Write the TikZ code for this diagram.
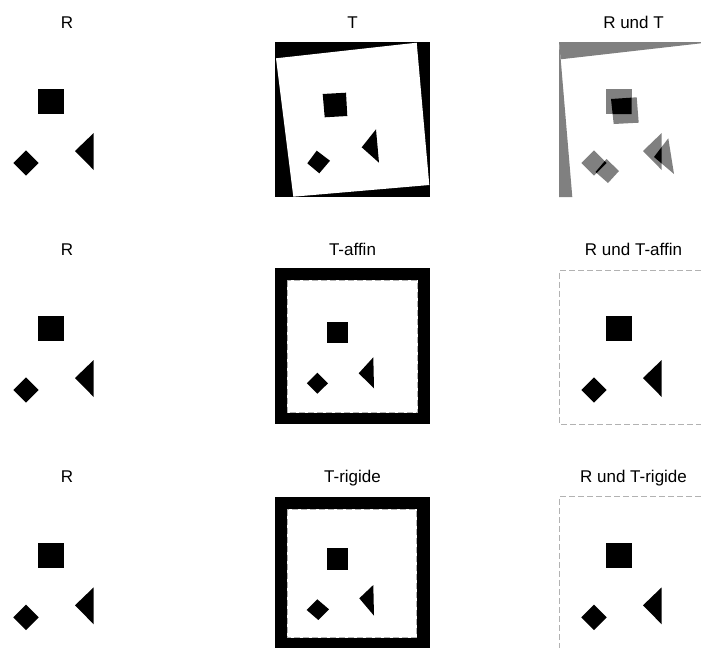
\documentclass[tikz,border=0pt]{standalone}
\usepackage{fontspec}
\setmainfont{Liberation Sans}
\begin{document}
\begin{tikzpicture}[
x=1pt, y=-1pt,
lab/.style={anchor=base, inner sep=0pt, font=\fontsize{17}{20}\selectfont},
frame/.style={fill=black},
ghost/.style={fill=black!50},
seam/.style={draw=black!30, line width=0.8pt, dash pattern=on 6pt off 3pt},
rfigs/.pic={
  \fill[pic actions] (47,47) rectangle (72.5,72);
  \fill[pic actions] (22.3,121) -- (35,108.3) -- (47.7,121) -- (35,133.7) -- cycle;
  \fill[pic actions] (84,109) -- (102.7,91) -- (102.7,128) -- cycle;
}
]
\useasboundingbox (0,0) rectangle (701,648);

% ---------- ROW 1: R / T / R und T ----------
\node[lab] (r1) at (67,28.5) {R};
\node[lab] (t1) at (352.5,28.5) {T};
\node[lab] (rt1) at (633.5,28.5) {R und T};

% reference
\pic at (-9,42) {rfigs};

% template, rotated
\begin{scope}[shift={(275,42)}]
\fill[frame] (0,0) rectangle (155,155);
\fill[white] (1,16.3) -- (141.7,0.7) -- (154.3,143) -- (18.3,154.7) -- cycle;
\fill (47.7,52) -- (71,50.7) -- (72.3,74) -- (49.7,75.3) -- cycle;
\fill (32.3,121.3) -- (41.7,108.7) -- (55,118.7) -- (44.3,131.3) -- cycle;
\fill (86.7,105.3) -- (101,87.3) -- (104,120.7) -- cycle;
\end{scope}

% overlay
\begin{scope}[shift={(559,42)}]
\fill[ghost] (0,0) -- (142,0) -- (142,1.3) -- (1.7,17.3) -- cycle;
\fill[ghost] (0,0) -- (1.7,17.3) -- (13.3,155) -- (0,155) -- cycle;
\pic[fill=black!50] at (0,0) {rfigs};
\fill[ghost] (52,57) -- (77.7,55.3) -- (79.7,80.7) -- (54.7,82) -- cycle;
\fill[ghost] (36.5,130) -- (47.5,117) -- (60,129) -- (49,141) -- cycle;
\fill[ghost] (95,115) -- (109.3,96.3) -- (115,132) -- cycle;
% both black
\begin{scope}
\clip (47,47) rectangle (72.5,72)
  (22.3,121) -- (35,108.3) -- (47.7,121) -- (35,133.7) -- cycle
  (84,109) -- (102.7,91) -- (102.7,128) -- cycle;
\fill (52,57) -- (77.7,55.3) -- (79.7,80.7) -- (54.7,82) -- cycle;
\fill (36.5,130) -- (47.5,117) -- (60,129) -- (49,141) -- cycle;
\fill (95,115) -- (109.3,96.3) -- (115,132) -- cycle;
\end{scope}
\end{scope}

% ---------- ROW 2: R / T-affin / R und T-affin ----------
\node[lab] (r2) at (67,255.5) {R};
\node[lab] (t2) at (352.5,255.5) {T-affin};
\node[lab] (rt2) at (633.5,255.5) {R und T-affin};

\pic at (-9,269) {rfigs};

\begin{scope}[shift={(275,268.3)}]
\fill[frame] (0,0) rectangle (155,156);
\fill[white] (11.7,11.7) rectangle (143.3,145);
\draw[seam] (12.2,12.2) rectangle (142.8,144.5);
\fill (51.7,53.4) rectangle (73.3,74.4);
\fill (31.8,115) -- (42.4,104.4) -- (53,115) -- (42.4,125.4) -- cycle;
\fill (83.7,105) -- (98.3,89) -- (99,120) -- cycle;
\end{scope}

\begin{scope}[shift={(559,269)}]
\draw[seam] (142,1) -- (0.5,1) -- (0.5,155) -- (142,155);
\pic at (0,0) {rfigs};
\end{scope}

% ---------- ROW 3: R / T-rigide / R und T-rigide ----------
\node[lab] (r3) at (67,482.5) {R};
\node[lab] (t3) at (352.5,482.5) {T-rigide};
\node[lab] (rt3) at (633.5,482.5) {R und T-rigide};

\pic at (-9,496.3) {rfigs};

\begin{scope}[shift={(275,496.7)}]
\fill[frame] (0,0) rectangle (155,151.3);
\fill[white] (11.7,12.6) rectangle (142.3,141.6);
\draw[seam] (12.2,13.1) rectangle (141.8,141.1);
\fill (51.7,51.6) rectangle (73.3,73.3);
\fill (31.7,113.3) -- (42.3,102.6) -- (54,112.6) -- (43.3,123.3) -- cycle;
\fill (84.3,101.6) -- (98.3,88.3) -- (99,119) -- cycle;
\end{scope}

\begin{scope}[shift={(559,496.3)}]
\draw[seam] (142,0) -- (0.5,0) -- (0.5,151.7);
\pic at (0,0) {rfigs};
\end{scope}

\end{tikzpicture}
\end{document}
